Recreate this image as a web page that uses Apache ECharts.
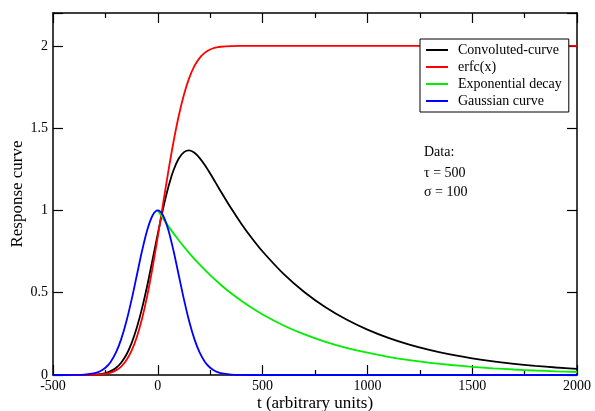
<!DOCTYPE html>
<html>
<head>
<meta charset="utf-8">
<script src="https://cdn.jsdelivr.net/npm/echarts@6/dist/echarts.min.js"></script>
<style>
html,body{margin:0;padding:0;background:#fff;}
#c{width:595px;height:411px;}
</style>
</head>
<body>
<div id="c"></div>
<script>
// time samples (arbitrary units)
const tGrid = [-500,-400,-350,-300,-275,-250,-225,-200,-175,-150,-125,-100,-75,-50,-25,0,25,50,75,100,125,150,175,200,225,250,275,300,350,400,450,500,600,700,800,900,1000,1100,1200,1300,1400,1500,1600,1700,1800,1900,2000];
const convoluted = [0,0.0001,0.0005,0.0026,0.0057,0.0118,0.0232,0.0426,0.0746,0.1230,0.1935,0.2882,0.4064,0.5456,0.7008,0.8585,1.0091,1.1405,1.2446,1.3158,1.3547,1.3648,1.3506,1.3183,1.2744,1.2242,1.1708,1.1169,1.0128,0.9167,0.8296,0.7506,0.6146,0.5032,0.4120,0.3373,0.2761,0.2261,0.1851,0.1516,0.1241,0.1016,0.0832,0.0681,0.0558,0.0457,0.0374];
const erfcCurve = [0,0.00003,0.0002,0.0014,0.0032,0.0070,0.0145,0.0280,0.0515,0.0893,0.1477,0.2313,0.3429,0.4839,0.6534,0.8415,1.0399,1.2355,1.4174,1.5753,1.7051,1.8057,1.8787,1.9276,1.9591,1.9783,1.9892,1.9949,1.9991,1.9999,2,2,2,2,2,2,2,2,2,2,2,2,2,2,2,2,2];
const gaussian = [0,0.0003,0.0022,0.0111,0.0228,0.0439,0.0796,0.1353,0.2163,0.3247,0.4578,0.6065,0.7548,0.8825,0.9692,1,0.9692,0.8825,0.7548,0.6065,0.4578,0.3247,0.2163,0.1353,0.0796,0.0439,0.0228,0.0111,0.0022,0.0003,0,0,0,0,0,0,0,0,0,0,0,0,0,0,0,0,0];
const tDecay = [0,50,100,150,200,250,300,350,400,450,500,600,700,800,900,1000,1100,1200,1300,1400,1500,1600,1700,1800,1900,2000];
const expDecay = [1,0.9048,0.8187,0.7408,0.6703,0.6065,0.5488,0.4966,0.4493,0.4066,0.3679,0.3012,0.2466,0.2019,0.1653,0.1353,0.1108,0.0907,0.0743,0.0608,0.0498,0.0408,0.0334,0.0273,0.0224,0.0183];
const seriesNames = ['Convoluted-curve','erfc(x)','Exponential decay','Gaussian curve'];
const seriesColors = ['#000000','#ff0000','#00ee00','#0000ff'];
const xTicks = {min:-500, max:2000, step:500};
const yTicks = {min:0, max:2.2, step:0.5};
const xTitle = 't (arbitrary units)';
const yTitle = 'Response curve';
const noteLines = ['Data:','\u03c4 = 500','\u03c3 = 100'];

const FONT = "'Liberation Serif','DejaVu Serif',serif";
const pair = (xs, ys) => xs.map((x,i)=>[x, ys[i]]);
const dataSets = [pair(tGrid,convoluted), pair(tGrid,erfcCurve), pair(tDecay,expDecay), pair(tGrid,gaussian)];

const axisLineStyle = {lineStyle:{color:'#000',width:1.5}};
const baseX = {
  type:'value', min:xTicks.min, max:xTicks.max, interval:xTicks.step,
  axisLine:{show:true, onZero:false, ...axisLineStyle},
  axisTick:{show:true, inside:true, length:10, lineStyle:{color:'#000',width:1.2}},
  minorTick:{show:true, splitNumber:2, length:5, lineStyle:{color:'#000',width:1.2}},
  splitLine:{show:false}
};
const yFmt = v => (Math.abs(v/yTicks.step - Math.round(v/yTicks.step))<1e-6) ? String(v) : '';
const baseY = {
  type:'value', min:yTicks.min, max:yTicks.max, interval:yTicks.step,
  axisLine:{show:true, onZero:false, ...axisLineStyle},
  axisTick:{show:true, inside:true, length:10, lineStyle:{color:'#000',width:1.2}},
  splitLine:{show:false}
};

const chart = echarts.init(document.getElementById('c'), null, {renderer:'canvas'});
chart.setOption({
  backgroundColor:'#fff',
  animation:false,
  grid:{left:53, right:18, top:13, bottom:36, containLabel:false, outerBoundsMode:'none'},
  xAxis:[
    {...baseX, position:'bottom',
      axisLabel:{show:true, color:'#000', fontFamily:FONT, fontSize:14, margin:4, formatter:v=>String(v)},
      name:xTitle, nameLocation:'middle', nameGap:20, nameMoveOverlap:false,
      nameTextStyle:{color:'#000', fontFamily:FONT, fontSize:17}},
    {...baseX, position:'top', axisLabel:{show:false}}
  ],
  yAxis:[
    {...baseY, position:'left',
      axisLabel:{show:true, color:'#000', fontFamily:FONT, fontSize:14, margin:5, formatter:yFmt},
      name:yTitle, nameLocation:'middle', nameGap:27, nameRotate:90, nameMoveOverlap:false,
      nameTextStyle:{color:'#000', fontFamily:FONT, fontSize:17}},
    {...baseY, position:'right', axisLabel:{show:false}}
  ],
  legend:{
    orient:'vertical', left:420, top:39,
    backgroundColor:'#fff', borderColor:'#000', borderWidth:1,
    padding:[3,7,3,6], itemGap:1,
    icon:'rect', itemWidth:22, itemHeight:2,
    textStyle:{color:'#000', fontFamily:FONT, fontSize:14, lineHeight:16, padding:[0,0,0,5]},
    data:seriesNames
  },
  graphic: noteLines.map((s,i)=>({
    type:'text', left:424, top:[145,166,185][i],
    style:{text:s, fill:'#000', font:"14px 'Liberation Serif','DejaVu Serif',serif"}
  })),
  series: seriesNames.map((n,i)=>({
    name:n, type:'line', xAxisIndex:0, yAxisIndex:0,
    data:dataSets[i], showSymbol:false, symbol:'none',
    smooth:0.3,
    lineStyle:{color:seriesColors[i], width:1.8},
    itemStyle:{color:seriesColors[i]},
    z: 2
  }))
});
</script>
</body>
</html>
